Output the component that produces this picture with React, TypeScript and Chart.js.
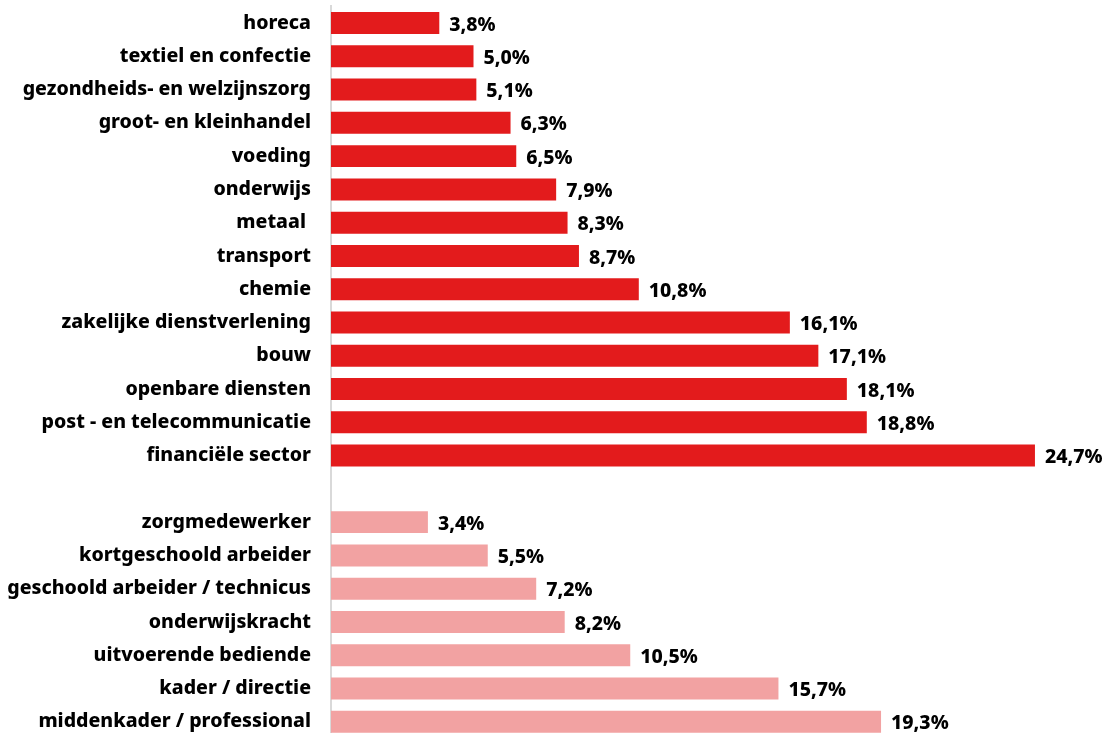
import React, { useEffect, useRef } from "react";
import { Chart, registerables } from "chart.js";

Chart.register(...registerables);

const sectorLabels = [
  "horeca",
  "textiel en confectie",
  "gezondheids- en welzijnszorg",
  "groot- en kleinhandel",
  "voeding",
  "onderwijs",
  "metaal ",
  "transport",
  "chemie",
  "zakelijke dienstverlening",
  "bouw",
  "openbare diensten",
  "post - en telecommunicatie",
  "financiële sector",
];
const sectorValues = [3.8, 5.0, 5.1, 6.3, 6.5, 7.9, 8.3, 8.7, 10.8, 16.1, 17.1, 18.1, 18.8, 24.7];

const jobLabels = [
  "zorgmedewerker",
  "kortgeschoold arbeider",
  "geschoold arbeider / technicus",
  "onderwijskracht",
  "uitvoerende bediende",
  "kader / directie",
  "middenkader / professional",
];
const jobValues = [3.4, 5.5, 7.2, 8.2, 10.5, 15.7, 19.3];

const SECTOR_COLOR = "#e31b1c";
const JOB_COLOR = "#f2a2a2";
const FONT = "'Noto Sans', sans-serif";
const FONT_SIZE = 19.5;

export default function App() {
  const ref = useRef<HTMLCanvasElement | null>(null);

  useEffect(() => {
    document.body.style.margin = "0";
    const labels = [...sectorLabels, "", ...jobLabels];
    const data: (number | null)[] = [...sectorValues, null, ...jobValues];
    const colors = [
      ...sectorValues.map(() => SECTOR_COLOR),
      "rgba(0,0,0,0)",
      ...jobValues.map(() => JOB_COLOR),
    ];

    const valueLabels = {
      id: "valueLabels",
      afterDatasetsDraw(chart: any) {
        const ctx = chart.ctx;
        const meta = chart.getDatasetMeta(0);
        ctx.save();
        ctx.font = `800 ${FONT_SIZE}px ${FONT}`;
        ctx.fillStyle = "#000";
        ctx.textAlign = "left";
        ctx.textBaseline = "middle";
        meta.data.forEach((bar: any, i: number) => {
          const v = data[i];
          if (v == null) return;
          const txt = v.toFixed(1).replace(".", ",") + "%";
          ctx.fillText(txt, bar.x + 10, bar.y + 2);
        });
        ctx.restore();
      },
    };

    const chart = new Chart(ref.current as HTMLCanvasElement, {
      type: "bar",
      data: {
        labels,
        datasets: [
          {
            data,
            backgroundColor: colors,
            borderWidth: 0,
            barPercentage: 0.66,
            categoryPercentage: 1,
          },
        ],
      },
      plugins: [valueLabels],
      options: {
        indexAxis: "y",
        animation: false,
        responsive: false,
        maintainAspectRatio: false,
        layout: { padding: { top: 6.4, bottom: 1.6, left: 0, right: 61.5 } },
        plugins: { legend: { display: false }, tooltip: { enabled: false } },
        scales: {
          x: { display: false, min: 0, max: 25 },
          y: {
            grid: { display: false, drawTicks: false },
            border: { display: true, color: "#d9d9d9", width: 2 },
            ticks: {
              padding: 20,
              color: "#000",
              font: { family: FONT, size: FONT_SIZE, weight: "800" },
              autoSkip: false,
            },
            afterFit(scale: any) {
              scale.width = 331;
              scale.paddingTop = 0;
              scale.paddingBottom = 0;
            },
          },
        },
      },
    } as any);
    return () => chart.destroy();
  }, []);

  return (
    <div style={{ width: 1105, height: 733, overflow: "hidden" }}>
      <canvas ref={ref} width={1105} height={740} style={{ display: "block" }} />
    </div>
  );
}
